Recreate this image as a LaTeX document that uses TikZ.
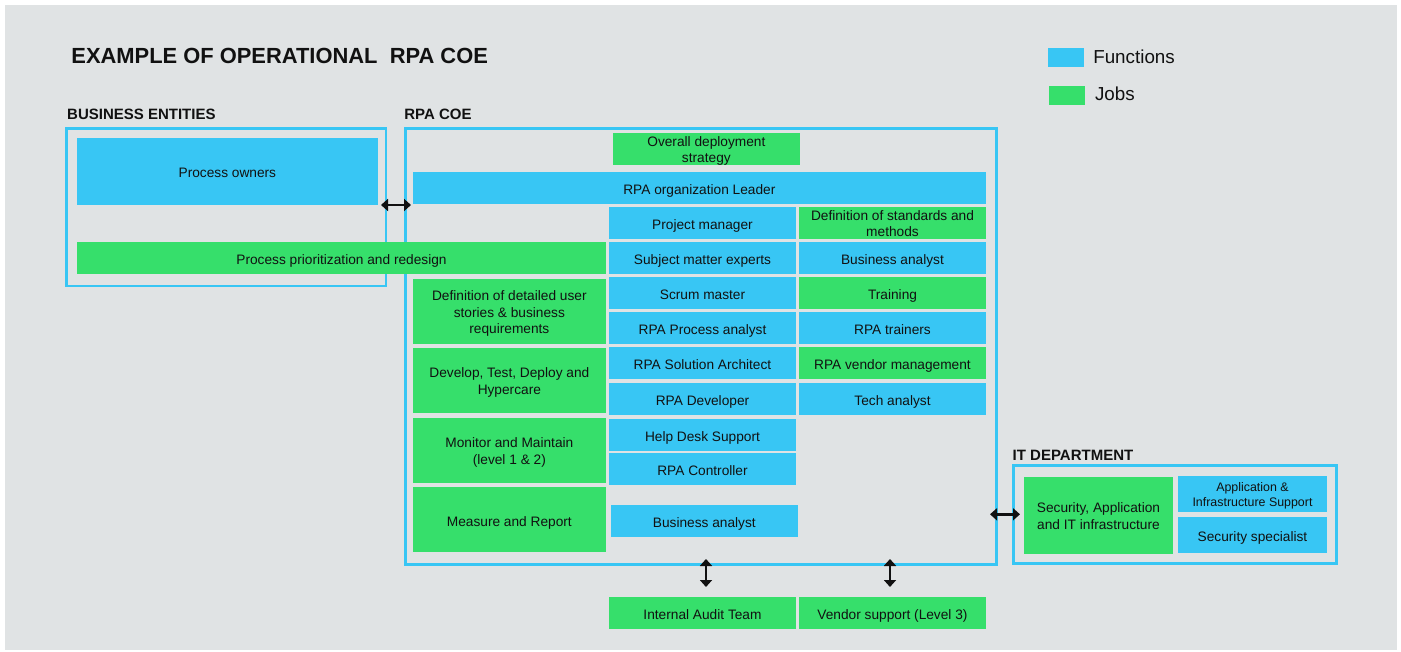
\documentclass[tikz,border=0pt]{standalone}
\usepackage{fontspec}
\setmainfont{Liberation Sans}
\usetikzlibrary{arrows.meta}
\definecolor{bgc}{HTML}{E0E3E4}
\definecolor{fnc}{HTML}{38C6F4}
\definecolor{jbc}{HTML}{36DF6B}
\definecolor{txt}{HTML}{111111}
\newcommand\bx[7]{\node[#6, minimum width={(#4)-(#2)}, minimum height={(#5)-(#3)}] (#1) at ({((#2)+(#4))/2},{((#3)+(#5))/2}) {};
  \node[boxtext,#6,fill=none] (#1t) at ([yshift=-3.2pt]#1.center) {#7};}
\begin{document}
\begin{tikzpicture}[x=1pt,y=-1pt,
  boxtext/.style={inner sep=0pt, outer sep=0pt, align=center, text=txt, font=\fontsize{13.7}{16.7}\selectfont,
    execute at begin node={\strut}, execute at end node={\strut}},
  boxbase/.style={rectangle, inner sep=0pt, outer sep=0pt},
  fn/.style={boxbase, fill=fnc},
  jb/.style={boxbase, fill=jbc},
  grp/.style={rectangle, draw=fnc, line width=2.6pt, inner sep=0pt, outer sep=0pt},
  hdr/.style={anchor=base west, inner sep=0pt, outer sep=0pt, font=\fontsize{15}{18}\selectfont\bfseries, text=txt},
  lgtext/.style={anchor=base west, inner sep=0pt, outer sep=0pt, font=\fontsize{18.8}{22}\selectfont, text=txt},
  arr/.style={line width=2.4pt, draw=txt, {Triangle[length=7pt,width=12pt]}-{Triangle[length=7pt,width=12pt]}}]
\useasboundingbox (0,0) rectangle (1401,652);
\fill[bgc] (5,5) rectangle (1397,650);
% title and legend
\node[anchor=base west, inner sep=0pt, font=\fontsize{21.9}{26}\selectfont\bfseries, text=txt] (title) at (71.2,64) {EXAMPLE OF OPERATIONAL\ \ RPA COE};
\node[rectangle, fill=fnc, inner sep=0pt, minimum width=36, minimum height=18.7] (lgf) at (1066,57.3) {};
\node[lgtext] (lgft) at (1093.3,63.3) {Functions};
\node[rectangle, fill=jbc, inner sep=0pt, minimum width=36, minimum height=19] (lgj) at (1067,95.5) {};
\node[lgtext] (lgjt) at (1095,101) {Jobs};
% group headers
\node[hdr] (hbe) at (67.2,120) {BUSINESS ENTITIES};
\node[hdr] (hcoe) at (404.3,120) {RPA COE};
\node[hdr] (hit) at (1012.7,460.7) {IT DEPARTMENT};
% group frames
\node[grp, minimum width=319.5, minimum height=157.7] (be) at (226.25,207.15) {};
\node[grp, minimum width=590.9, minimum height=436] (coe) at (700.75,346.7) {};
\node[grp, minimum width=323.4, minimum height=98.4] (itd) at (1175,514.5) {};
% boxes
\bx{po}{77}{138}{377.7}{204.7}{fn}{Process owners}
\bx{ppr}{77}{242}{606}{274}{jb}{Process prioritization and redesign}
\bx{ods}{612.7}{133}{800}{164.7}{jb}{Overall deployment\\strategy}
\bx{lead}{412.7}{171.7}{986}{203.7}{fn}{RPA organization Leader}
\bx{pm}{609}{207}{796}{238.7}{fn}{Project manager}
\bx{dsm}{799}{207}{986}{238.7}{jb}{Definition of standards and\\methods}
\bx{sme}{609}{242}{796}{273.7}{fn}{Subject matter experts}
\bx{baa}{799}{242}{986}{273.7}{fn}{Business analyst}
\bx{dus}{412.7}{279}{606}{343.7}{jb}{Definition of detailed user\\stories \& business\\requirements}
\bx{scm}{609}{277}{796}{308.7}{fn}{Scrum master}
\bx{trn}{799}{277}{986}{308.7}{jb}{Training}
\bx{rpa}{609}{312}{796}{343.7}{fn}{RPA Process analyst}
\bx{rtr}{799}{312}{986}{343.7}{fn}{RPA trainers}
\bx{dev}{412.7}{348.3}{606}{412.7}{jb}{Develop, Test, Deploy and\\Hypercare}
\bx{rsa}{609}{347}{796}{379}{fn}{RPA Solution Architect}
\bx{rvm}{799}{347}{986}{379}{jb}{RPA vendor management}
\bx{rdv}{609}{383}{796}{414.7}{fn}{RPA Developer}
\bx{tan}{799}{383}{986}{414.7}{fn}{Tech analyst}
\bx{mon}{412.7}{418}{606}{482.7}{jb}{Monitor and Maintain\\(level 1 \& 2)}
\bx{hds}{609}{419}{796}{450.7}{fn}{Help Desk Support}
\bx{rct}{609}{453}{796}{484.7}{fn}{RPA Controller}
\bx{mar}{412.7}{487.3}{606}{551.7}{jb}{Measure and Report}
\bx{bab}{611}{505}{797.7}{536.7}{fn}{Business analyst}
\bx{iat}{609}{597}{796}{628.7}{jb}{Internal Audit Team}
\bx{vsp}{799}{597}{986}{628.7}{jb}{Vendor support (Level 3)}
\bx{sai}{1024}{477}{1173}{553.7}{jb}{Security, Application\\and IT infrastructure}
\bx{ais}{1178}{476}{1327}{511.7}{fn,font=\fontsize{12.4}{15}\selectfont}{Application \&\\Infrastructure Support}
\bx{ssp}{1178}{517}{1327}{552.7}{fn}{Security specialist}
% connectors
\coordinate (h1a) at (381,205);
\coordinate (h1b) at (411,205);
\draw[arr] (h1a) -- (h1b);
\coordinate (v1a) at (706,559);
\coordinate (v1b) at (706,587);
\draw[arr] (v1a) -- (v1b);
\coordinate (v2a) at (890,559);
\coordinate (v2b) at (890,587);
\draw[arr] (v2a) -- (v2b);
\coordinate (h2a) at (990,514.3);
\coordinate (h2b) at (1020,514.3);
\draw[arr] (h2a) -- (h2b);
\end{tikzpicture}
\end{document}
